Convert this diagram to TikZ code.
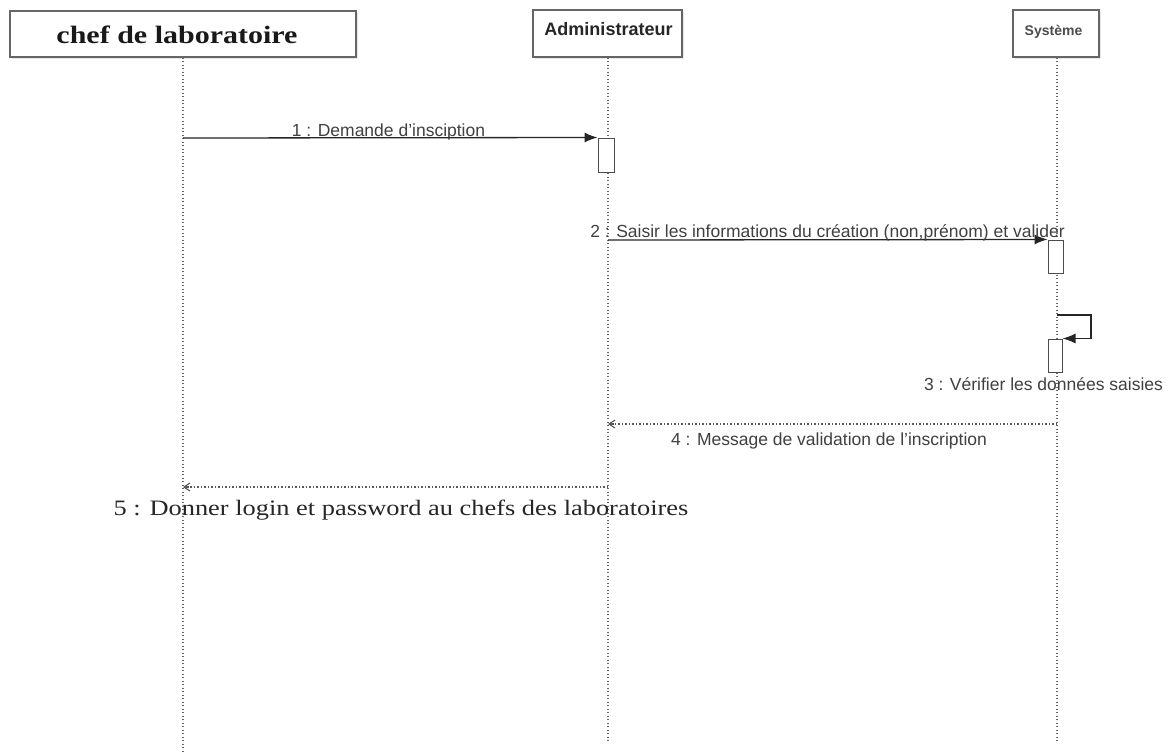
\documentclass[tikz,border=0pt]{standalone}
\usepackage{fontspec}
\setmainfont{Liberation Serif}
\setsansfont{Liberation Sans}
\usetikzlibrary{arrows.meta,shadows}

\begin{document}
\begin{tikzpicture}[x=1pt,y=-1pt,
  head/.style={draw=black!60, line width=1.3pt, fill=white, rectangle, inner sep=0pt,
               drop shadow={shadow xshift=1.5pt, shadow yshift=-1.5pt, fill=black!18}},
  act/.style={draw=black!70, line width=1pt, fill=white, rectangle, inner sep=0pt},
  lifeline/.style={draw=black!60, line width=1.3pt, dash pattern=on 1.3pt off 2.2pt},
  sync/.style={draw=black!85, line width=1.3pt, -{Latex[length=13pt,width=10pt]}},
  dotline/.style={draw=black!65, line width=1.2pt, dash pattern=on 1.3pt off 2.2pt},
  replytip/.style={draw=black!65, line width=1.1pt, -{Straight Barb[length=6pt,width=8pt]}},
  msglbl/.style={font=\sffamily\fontsize{17.5}{20}\selectfont, text=black!75, inner sep=0pt, anchor=base},
  headlbl/.style={font=\sffamily\bfseries, text=black!85, inner sep=0pt, anchor=base}
]
\fill[white] (0,0) rectangle (1174,755);
\useasboundingbox (0,0) rectangle (1174,755);

% lifeline heads
\node[head, minimum width=346pt, minimum height=46pt] (chef) at (183,34) {};
\node[head, minimum width=149pt, minimum height=47pt] (admin) at (607.5,33.5) {};
\node[head, minimum width=86pt, minimum height=47pt] (sys) at (1056,33.5) {};

\node[inner sep=0pt, anchor=base, text=black!90] (chefTxt) at (177,43)
  {\scalebox{1.2}[1]{\bfseries\fontsize{25}{28}\selectfont chef de laboratoire}};
\node[headlbl, font=\sffamily\bfseries\fontsize{18}{20}\selectfont] (adminTxt) at (608.5,35) {Administrateur};
\node[headlbl, font=\sffamily\bfseries\fontsize{14}{16}\selectfont, text=black!70] (sysTxt) at (1053.5,35) {Système};

% lifeline ends
\coordinate (chefEnd) at (183,753);
\coordinate (adminEnd) at (608,743);
\coordinate (sysEnd) at (1057,741);

\draw[lifeline] (chef.south) -- (chefEnd);
\draw[lifeline] (admin.south -| adminEnd) -- (adminEnd);
\draw[lifeline] (sys.south -| sysEnd) -- (sysEnd);

% activation bars
\node[act, minimum width=16pt, minimum height=34pt] (act1) at (606,155) {};
\node[act, minimum width=15pt, minimum height=33pt] (act2) at (1055.5,256.5) {};
\node[act, minimum width=14pt, minimum height=33pt] (act3) at (1055,355.5) {};

% message anchors on the lifelines
\coordinate (m1) at (183,138);
\coordinate (m2) at (608,240);
\coordinate (m3) at (1057,315);
\coordinate (m3r) at (1091,315);
\coordinate (m4s) at (1057,424);
\coordinate (m4e) at (608,424);
\coordinate (m4t) at (614,424);
\coordinate (m5s) at (608,487);
\coordinate (m5e) at (183,487);
\coordinate (m5t) at (189,487);

% synchronous messages
\draw[sync] (m1) -- (act1.north west);
\draw[sync] (m2) -- (act2.north west);
\draw[sync] (m3) -- (m3r) |- (act3.north east);

% replies: dotted shaft, solid open tip
\draw[dotline] (m4s) -- (m4t);
\draw[replytip] (m4t) -- (m4e);
\draw[dotline] (m5s) -- (m5t);
\draw[replytip] (m5t) -- (m5e);

% message labels
\node[msglbl] (l1) at (388.5,136) {1 : Demande d'insciption};
\node[msglbl] (l2) at (827.5,237) {2 : Saisir les informations du création (non,prénom) et valider};
\node[msglbl] (l3) at (1043.5,390) {3 : Vérifier les données saisies};
\node[msglbl] (l4) at (829,445) {4 : Message de validation de l'inscription};
\node[inner sep=0pt, anchor=base, text=black!85] (l5) at (401,515)
  {\scalebox{1.2}[1]{\fontsize{22}{26}\selectfont 5 : Donner login et password au chefs des laboratoires}};
\end{tikzpicture}
\end{document}
